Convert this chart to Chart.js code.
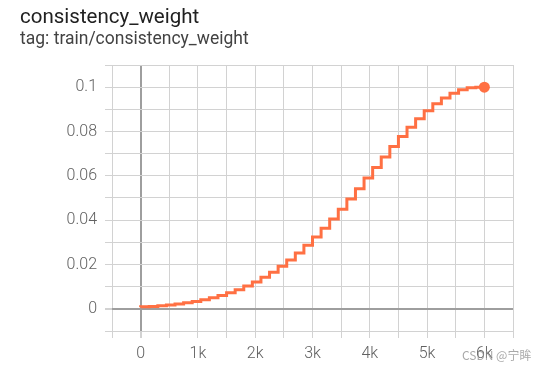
<!DOCTYPE html>
<html>
<head>
<meta charset="utf-8">
<script src="https://cdn.jsdelivr.net/npm/chart.js@4/dist/chart.umd.min.js"></script>
<style>
  html, body { margin: 0; padding: 0; background: #fff; }
  #wrap { position: relative; width: 546px; height: 371px; overflow: hidden; font-family: Roboto, sans-serif; }
  #title { position: absolute; left: 20px; top: 6px; font-size: 20.5px; line-height: 1; color: #212121; }
  #subtitle { position: absolute; left: 20px; top: 30px; font-size: 17.5px; line-height: 1; color: #424242; }
  #mark { position: absolute; left: 462px; top: 346px; font-size: 12px; color: rgba(140,140,140,0.75); font-family: "Noto Sans CJK SC", sans-serif; }
  canvas { position: absolute; left: 0; top: 0; }
</style>
</head>
<body>
<div id="wrap">
  <canvas id="weightChart" width="546" height="371"></canvas>
  <div id="title">consistency_weight</div>
  <div id="subtitle">tag: train/consistency_weight</div>
  <div id="mark">CSDN @宁眸</div>
</div>
<script>
// one logged value per epoch (150 iterations each)
const steps = [0, 150, 300, 450, 600, 750, 900, 1050, 1200, 1350,
    1500, 1650, 1800, 1950, 2100, 2250, 2400, 2550, 2700, 2850,
    3000, 3150, 3300, 3450, 3600, 3750, 3900, 4050, 4200, 4350,
    4500, 4650, 4800, 4950, 5100, 5250, 5400, 5550, 5700, 5850, 6000];
const weights = [0.0007, 0.0009, 0.0011, 0.0014, 0.0017, 0.0022, 0.0027, 0.0033, 0.0041, 0.0050,
    0.0060, 0.0072, 0.0086, 0.0103, 0.0121, 0.0142, 0.0165, 0.0192, 0.0220, 0.0252,
    0.0287, 0.0324, 0.0363, 0.0405, 0.0449, 0.0495, 0.0542, 0.0590, 0.0638, 0.0685,
    0.0732, 0.0777, 0.0819, 0.0858, 0.0894, 0.0925, 0.0951, 0.0972, 0.0988, 0.0997, 0.1];
const xLabels = ["0", "1k", "2k", "3k", "4k", "5k", "6k"];
const yLabels = ["0", "0.02", "0.04", "0.06", "0.08", "0.1"];

const lineColor = '#ff7043';
const gridColor = '#d2d2d2';
const zeroColor = '#9e9e9e';

const points = steps.map((s, i) => ({ x: s, y: weights[i] }));

function gridStyle(ctx) {
    return ctx.tick && Math.abs(ctx.tick.value) < 1e-9 ? zeroColor : gridColor;
}
function gridWidth(ctx) {
    return ctx.tick && Math.abs(ctx.tick.value) < 1e-9 ? 2 : 1;
}

const ctx = document.getElementById('weightChart').getContext('2d');
new Chart(ctx, {
    type: 'line',
    data: {
        datasets: [{
            data: points,
            borderColor: lineColor,
            backgroundColor: lineColor,
            borderWidth: 3,
            stepped: 'after',
            pointRadius: c => c.dataIndex === points.length - 1 ? 5.5 : 0,
            pointBorderWidth: 0,
            pointBackgroundColor: lineColor
        }]
    },
    options: {
        responsive: false,
        animation: false,
        layout: { padding: { top: 65, right: 33, left: 0, bottom: 0 } },
        plugins: { legend: { display: false }, tooltip: { enabled: false } },
        scales: {
            x: {
                type: 'linear',
                min: -500,
                max: 6500,
                border: { display: false },
                grid: { color: gridStyle, lineWidth: gridWidth, tickLength: 7, tickColor: gridColor },
                ticks: {
                    stepSize: 500,
                    autoSkip: false,
                    maxRotation: 0,
                    padding: 6,
                    color: '#616161',
                    font: { family: 'Roboto', size: 16, weight: 300 },
                    callback: v => {
                        const k = Math.round(v / 1000);
                        return (v >= 0 && Math.abs(v - k * 1000) < 1e-6 && k < xLabels.length) ? xLabels[k] : '';
                    }
                },
                afterFit: s => { s.height = 40; }
            },
            y: {
                min: -0.01,
                max: 0.11,
                border: { display: false },
                grid: { color: gridStyle, lineWidth: gridWidth, tickLength: 7, tickColor: gridColor },
                ticks: {
                    stepSize: 0.01,
                    autoSkip: false,
                    padding: 8,
                    color: '#616161',
                    font: { family: 'Roboto', size: 16, weight: 300 },
                    callback: v => {
                        const n = Math.round(v * 100);
                        return (n >= 0 && n % 2 === 0 && n / 2 < yLabels.length) ? yLabels[n / 2] : '';
                    }
                },
                afterFit: s => { s.width = 112; }
            }
        }
    }
});
</script>
</body>
</html>
